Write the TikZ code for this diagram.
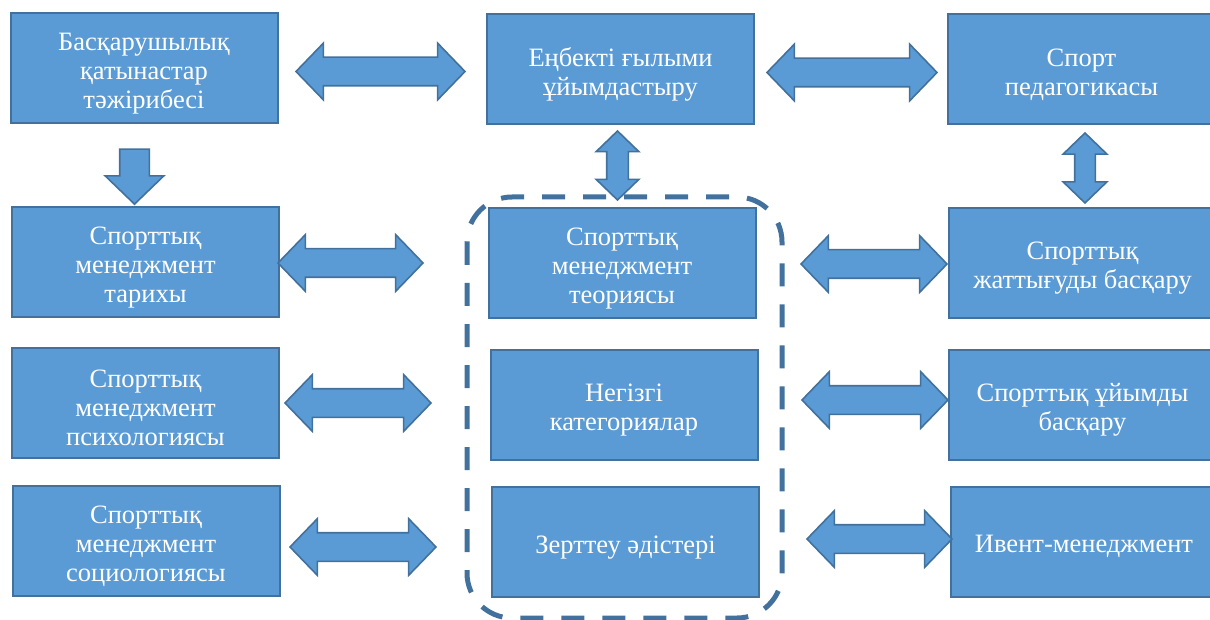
\documentclass[tikz,border=0pt]{standalone}
\usepackage{fontspec}
\setmainfont{Liberation Serif}
\usetikzlibrary{shapes.arrows}
\definecolor{boxblue}{HTML}{5B9BD5}
\definecolor{boxline}{HTML}{41719C}
\newcommand{\topstrut}{\rule{0pt}{28pt}}

\begin{document}
\begin{tikzpicture}[x=1pt,y=-1pt,
    box/.style={draw=boxline, line width=2pt, fill=boxblue, text=white,
      minimum width=267pt, minimum height=110pt, inner sep=0pt,
      align=center, font=\fontsize{26.5}{29}\selectfont},
    dblarrow/.style={double arrow, draw=boxline, line width=1.6pt, fill=boxblue,
      inner xsep=0pt, inner ysep=13.5pt, double arrow head extend=14pt,
      double arrow tip angle=92},
    downarrow/.style={single arrow, draw=boxline, line width=1.6pt, fill=boxblue,
      inner xsep=0pt, inner ysep=14pt, single arrow head extend=14.5pt,
      single arrow tip angle=92, rotate=-90}]
    \useasboundingbox (0,0) rectangle (1210,620);
    \clip (0,0) rectangle (1210,620);

    % linke Spalte
    \node[box] (l1) at (144,68.5) {\topstrut Басқарушылық\\қатынастар\\тәжірибесі};
    \node[box] (l2) at (145.5,262) {\topstrut Спорттық\\менеджмент\\тарихы};
    \node[box] (l3) at (145.5,403) {\topstrut Спорттық\\менеджмент\\психологиясы};
    \node[box] (l4) at (146,541) {\topstrut Спорттық\\менеджмент\\социологиясы};

    % mittlere Spalte
    \node[box] (m0) at (620.5,69.5) {\topstrut Еңбекті ғылыми\\ұйымдастыру};
    \node[box] (m1) at (622,263.5) {\topstrut Спорттық\\менеджмент\\теориясы};
    \node[box] (m2) at (624,405) {\topstrut Негізгі\\категориялар};
    \node[box] (m3) at (625.5,542) {\topstrut Зерттеу әдістері};

    % rechte Spalte
    \node[box] (r0) at (1081.5,69.5) {\topstrut Спорт\\педагогикасы};
    \node[box] (r1) at (1082.5,263) {\topstrut Спорттық\\жаттығуды басқару};
    \node[box] (r2) at (1082.5,404.5) {\topstrut Спорттық ұйымды\\басқару};
    \node[box] (r3) at (1084,541.5) {\topstrut Ивент-менеджмент};

    % Rahmen um die Mitte
    \draw[boxline, line width=5pt, dash pattern=on 23pt off 18pt,
      rounded corners=45pt] (467,197) rectangle (782,618);

    % Pfeile oben
    \node[dblarrow, minimum height=169pt] (a1) at (380.5,71.5) {};
    \node[dblarrow, minimum height=170pt] (a2) at (852,72.5) {};
    \node[downarrow, minimum height=55pt] (a3) at (134.5,169.5) {};
    \node[dblarrow, rotate=90, minimum height=69pt, inner ysep=10pt,
      double arrow head extend=10.5pt] (a4) at (617.5,165.5) {};
    \node[dblarrow, rotate=90, minimum height=70pt, inner ysep=9.5pt,
      double arrow head extend=11.5pt] (a5) at (1085,168) {};

    % Pfeile links und rechts
    \node[dblarrow, minimum height=145pt] (a6) at (350.5,263) {};
    \node[dblarrow, minimum height=146pt] (a7) at (358,403) {};
    \node[dblarrow, minimum height=146pt] (a8) at (363,547) {};
    \node[dblarrow, minimum height=146pt] (a9) at (874,264) {};
    \node[dblarrow, minimum height=146pt] (a10) at (875,400) {};
    \node[dblarrow, minimum height=145pt] (a11) at (879.5,539) {};
\end{tikzpicture}
\end{document}
